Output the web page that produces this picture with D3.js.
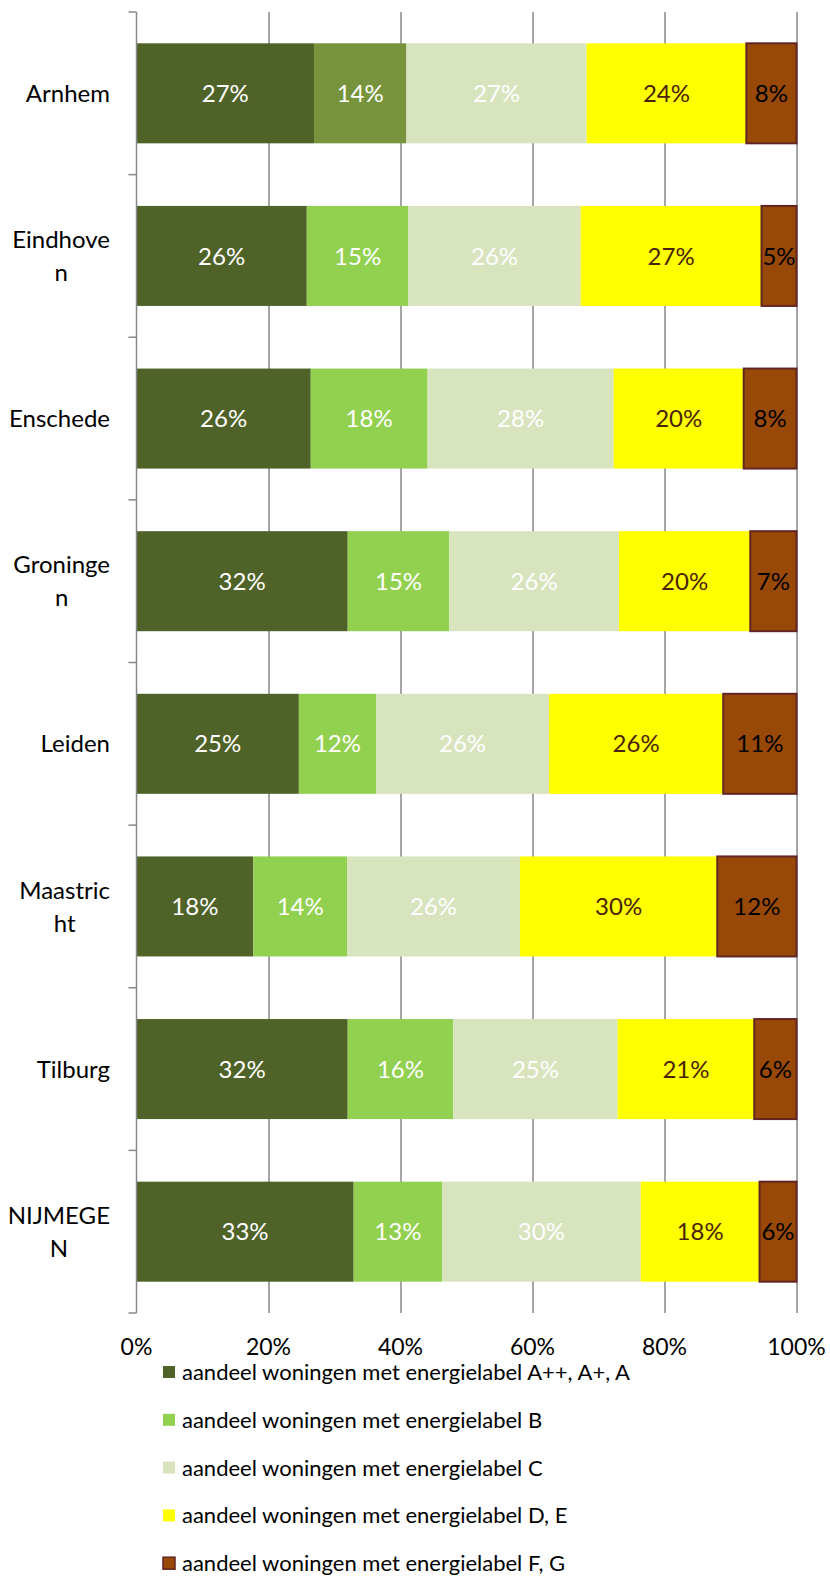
<!DOCTYPE html>
<html>
<head>
<meta charset="utf-8">
<script src="https://cdn.jsdelivr.net/npm/d3@7"></script>
<style>
  body { margin: 0; background: #fff; }
  svg text { font-family: Lato, "Open Sans", sans-serif; }
  .grid line { stroke: #878787; stroke-width: 1.5; }
  .grid path { display: none; }
</style>
</head>
<body>
<div id="cont"></div>
<script>

// steden (categorieen), van boven naar onder
var cities = ["Arnhem", "Eindhove\nn", "Enschede", "Groninge\nn", "Leiden", "Maastric\nht", "Tilburg", "NIJMEGE\nN"];

// aandeel per energielabel (in %)
var labelAAA = [26.9, 25.8, 26.4, 32.0, 24.6, 17.7, 32.0, 32.9];
var labelB   = [14.0, 15.4, 17.7, 15.4, 11.7, 14.2, 16.0, 13.4];
var labelC   = [27.3, 26.1, 28.2, 25.7, 26.2, 26.2, 24.9, 30.1];
var labelDE  = [24.2, 27.4, 19.7, 19.9, 26.4, 29.9, 20.7, 18.0];
var labelFG  = [7.6, 5.3, 8.0, 7.0, 11.1, 12.0, 6.4, 5.6];

var seriesNames = [
  "aandeel woningen met energielabel A++, A+, A",
  "aandeel woningen met energielabel B",
  "aandeel woningen met energielabel C",
  "aandeel woningen met energielabel D, E",
  "aandeel woningen met energielabel F, G"
];

var xTicks = [0, 20, 40, 60, 80, 100];

var colors = ["#4f6228", "#92d050", "#d7e4bd", "#ffff00", "#984807"];
var textColors = ["#ffffff", "#ffffff", "#ffffff", "#4a2308", "#000000"];

var keys = ["a", "b", "c", "de", "fg"];
var data = cities.map(function(c, i) {
  return { city: c, a: labelAAA[i], b: labelB[i], c: labelC[i], de: labelDE[i], fg: labelFG[i] };
});

var width = 830, height = 1577;
var margin = { left: 136.5, right: 33.5, top: 12, bottom: 264 };
var innerW = width - margin.left - margin.right,
  innerH = height - margin.top - margin.bottom;

var svg = d3.select("#cont").append("svg")
  .attr("width", width)
  .attr("height", height);

var g = svg.append("g")
  .attr("transform", "translate(" + margin.left + "," + margin.top + ")");

var xScale = d3.scaleLinear().domain([0, 100]).range([0, innerW]);
var yScale = d3.scaleBand().domain(cities).range([0, innerH])
  .paddingInner(0.385).paddingOuter(0.1925);

// verticale rasterlijnen
g.append("g")
  .attr("class", "grid")
  .call(d3.axisBottom(xScale)
    .tickValues(xTicks.slice(1))
    .tickSize(innerH)
    .tickFormat("")
  );

// tick labels x-as
g.selectAll(".xlab")
  .data(xTicks)
  .enter().append("text")
  .attr("class", "xlab")
  .attr("x", function(d) { return xScale(d); })
  .attr("y", innerH + 34)
  .attr("dy", "0.36em")
  .attr("text-anchor", "middle")
  .style("font-size", "23px")
  .attr("fill", "#000")
  .text(function(d) { return d + "%"; });

var stack = d3.stack().keys(keys);
var stacked = stack(data);

var layers = g.selectAll(".layer")
  .data(stacked)
  .enter().append("g")
  .attr("class", "layer");

layers.selectAll("rect")
  .data(function(d, i) { return d.map(function(p) { return { p: p, k: i }; }); })
  .enter().append("rect")
  .attr("x", function(d) { return xScale(d.p[0]); })
  .attr("y", function(d) { return yScale(d.p.data.city); })
  .attr("width", function(d) { return xScale(d.p[1]) - xScale(d.p[0]); })
  .attr("height", yScale.bandwidth())
  .attr("fill", function(d) {
    // Arnhem heeft een afwijkende kleur voor label B
    if (d.k == 1 && d.p.data.city == "Arnhem") return "#77933c";
    return colors[d.k];
  })
  .attr("stroke", function(d) { return d.k == 4 ? "#632523" : "none"; })
  .attr("stroke-width", 2);

layers.selectAll("text")
  .data(function(d, i) { return d.map(function(p) { return { p: p, k: i }; }); })
  .enter().append("text")
  .attr("x", function(d) { return (xScale(d.p[0]) + xScale(d.p[1])) / 2; })
  .attr("y", function(d) { return yScale(d.p.data.city) + yScale.bandwidth() / 2; })
  .attr("dy", "0.36em")
  .attr("text-anchor", "middle")
  .style("font-size", "24px")
  .attr("fill", function(d) { return textColors[d.k]; })
  .text(function(d) { return Math.round(d.p[1] - d.p[0]) + "%"; });

// y-as lijn met tick marks
var yAxis = g.append("g");
yAxis.append("line")
  .attr("x1", 0).attr("x2", 0)
  .attr("y1", 0).attr("y2", innerH)
  .attr("stroke", "#878787").attr("stroke-width", 1.5);
yAxis.selectAll(".ytick")
  .data(d3.range(cities.length + 1))
  .enter().append("line")
  .attr("x1", -8).attr("x2", 0)
  .attr("y1", function(i) { return i * innerH / cities.length; })
  .attr("y2", function(i) { return i * innerH / cities.length; })
  .attr("stroke", "#878787").attr("stroke-width", 1.5);

// categorie labels, meerdere regels gecentreerd
var labelRight = 110 - margin.left;
cities.forEach(function(c) {
  var lines = c.split("\n");
  var t = g.append("text")
    .style("font-size", "24px")
    .attr("fill", "#000");
  var cy = yScale(c) + yScale.bandwidth() / 2;
  var lh = 33;
  lines.forEach(function(l, j) {
    t.append("tspan")
      .attr("y", cy + (j - (lines.length - 1) / 2) * lh)
      .attr("dy", "0.36em")
      .text(l);
  });
  var maxW = 0;
  t.selectAll("tspan").each(function() {
    maxW = Math.max(maxW, this.getComputedTextLength());
  });
  t.attr("text-anchor", "middle");
  t.selectAll("tspan").attr("x", labelRight - maxW / 2);
});

// legenda
var legend = svg.append("g")
  .attr("transform", "translate(163,1366)");

var li = legend.selectAll(".li")
  .data(seriesNames)
  .enter().append("g")
  .attr("transform", function(d, i) { return "translate(0," + (i * 47.8) + ")"; });

li.append("rect")
  .attr("width", 12).attr("height", 12)
  .attr("fill", function(d, i) { return colors[i]; })
  .attr("stroke", function(d, i) { return i == 4 ? "#632523" : "none"; })
  .attr("stroke-width", 1.5);

li.append("text")
  .attr("x", 19)
  .attr("y", 6)
  .attr("dy", "0.36em")
  .style("font-size", "22px")
  .attr("fill", "#000")
  .text(function(d) { return d; });

</script>
</body>
</html>
